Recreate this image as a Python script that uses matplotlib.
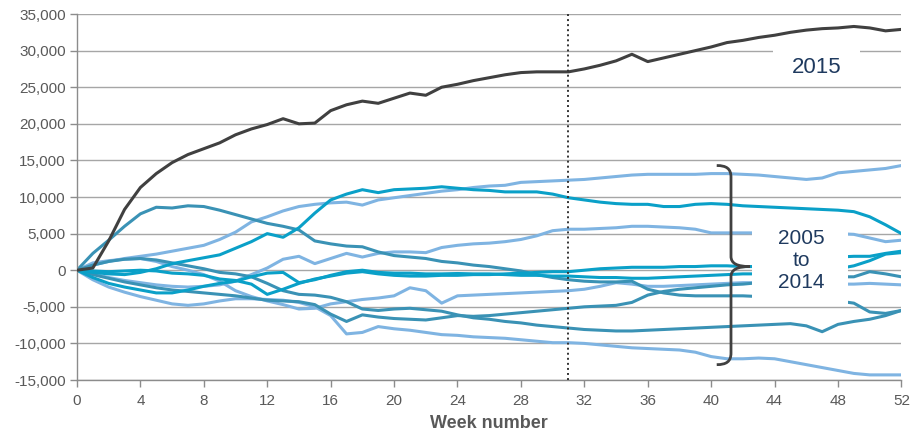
import matplotlib
matplotlib.use("Agg")
import matplotlib.pyplot as plt
from matplotlib.path import Path
from matplotlib.patches import PathPatch, Rectangle
from matplotlib.ticker import FuncFormatter, MultipleLocator

plt.rcParams["font.family"] = ["Liberation Sans", "DejaVu Sans"]

weeks = list(range(53))

# cumulative values, week 0..52
y2015 = [0, 300, 4000, 8300, 11300, 13200, 14700, 15800, 16600, 17400, 18500,
         19300, 19900, 20700, 20000, 20100, 21800, 22600, 23100, 22800, 23500,
         24200, 23900, 25000, 25400, 25900, 26300, 26700, 27000, 27100, 27100,
         27100, 27500, 28000, 28600, 29500, 28500, 29000, 29500, 30000, 30500,
         31100, 31400, 31800, 32100, 32500, 32800, 33000, 33100, 33300, 33100,
         32700, 32900]

line_a = [0, 700, 1200, 1600, 1900, 2200, 2600, 3000, 3400, 4200, 5200, 6600,
          7300, 8100, 8700, 9000, 9200, 9300, 8900, 9600, 9900, 10200, 10500,
          10800, 11000, 11300, 11500, 11600, 12000, 12100, 12200, 12300, 12400,
          12600, 12800, 13000, 13100, 13100, 13100, 13100, 13200, 13200, 13100,
          13000, 12800, 12600, 12400, 12600, 13300, 13500, 13700, 13900, 14300]
line_b = [0, -300, -500, -600, -300, 200, 900, 1300, 1700, 2100, 3000, 3900,
          5000, 4500, 5800, 7800, 9600, 10400, 11000, 10600, 11000, 11100,
          11200, 11400, 11200, 11000, 10900, 10700, 10700, 10700, 10400, 9900,
          9600, 9300, 9100, 9000, 9000, 8700, 8700, 9000, 9100, 9000, 8800,
          8700, 8600, 8500, 8400, 8300, 8200, 8000, 7300, 6200, 5000]
line_c = [0, -500, -1000, -1400, -1700, -2000, -2200, -2300, -2200, -2000,
          -1500, -600, 300, 1500, 1900, 900, 1600, 2300, 1800, 2300, 2500, 2500,
          2400, 3100, 3400, 3600, 3700, 3900, 4200, 4700, 5400, 5600, 5600,
          5700, 5800, 6000, 6000, 5900, 5800, 5600, 5100, 5100, 5100, 5100,
          5100, 5100, 5000, 5000, 5000, 4900, 4400, 3900, 4100]
line_d = [0, -100, -200, -100, 0, -100, -400, -500, -700, -1200, -1400, -1900,
          -3300, -2600, -1800, -1200, -800, -400, -200, -500, -700, -800, -800,
          -700, -700, -600, -600, -500, -400, -300, -200, -200, 0, 200, 300,
          400, 400, 400, 500, 500, 600, 600, 500, 500, 700, 900, 1200, 1500,
          1800, 1900, 1900, 2300, 2600]
line_e = [0, -1000, -1800, -2300, -2700, -3100, -3100, -2700, -2200, -1800,
          -1500, -900, -400, -300, -1700, -1300, -700, -200, 0, -300, -400,
          -400, -500, -500, -450, -500, -500, -600, -700, -700, -800, -800,
          -900, -1000, -1000, -1100, -1100, -1000, -900, -800, -700, -600, -500,
          -500, -400, -300, -200, 0, 200, 600, 1300, 2200, 2400]
line_f = [0, 2300, 4100, 6000, 7700, 8600, 8500, 8800, 8700, 8200, 7600, 7000,
          6400, 6000, 5500, 4000, 3600, 3300, 3200, 2500, 2000, 1800, 1600,
          1200, 1000, 700, 500, 200, -100, -600, -1000, -1300, -1500, -1600,
          -1600, -1500, -2600, -3100, -3400, -3500, -3500, -3500, -3500, -3600,
          -3700, -3800, -4000, -4100, -4200, -4500, -5700, -5900, -5500]
line_g = [0, 1000, 1300, 1500, 1600, 1200, 500, 0, -600, -1500, -2800, -3600,
          -4200, -4700, -5300, -5200, -4600, -4300, -4000, -3800, -3500, -2400,
          -2800, -4500, -3500, -3400, -3300, -3200, -3100, -3000, -2900, -2800,
          -2600, -2200, -1700, -1900, -2200, -2200, -2100, -2000, -1900, -1800,
          -1700, -1700, -1700, -1800, -1800, -1800, -1900, -1900, -1800, -1900,
          -2000]
line_h = [0, -600, -1100, -1600, -2000, -2400, -2700, -2900, -3100, -3300,
          -3500, -3800, -4100, -4200, -4300, -4700, -6000, -7000, -6100, -6400,
          -6600, -6700, -6800, -6500, -6200, -6300, -6200, -6000, -5800, -5600,
          -5400, -5200, -5000, -4900, -4800, -4400, -3400, -2900, -2600, -2400,
          -2200, -2000, -1900, -1700, -1500, -1300, -1100, -1000, -900, -900,
          -200, -500, -900]
line_i = [0, 700, 1200, 1500, 1600, 1400, 1000, 600, 200, -300, -500, -900,
          -1800, -2800, -3300, -3400, -3700, -4300, -5300, -5500, -5300, -5200,
          -5400, -5600, -6100, -6500, -6700, -7000, -7200, -7500, -7700, -7900,
          -8100, -8200, -8300, -8300, -8200, -8100, -8000, -7900, -7800, -7700,
          -7600, -7500, -7400, -7300, -7600, -8400, -7400, -7000, -6700, -6200,
          -5500]
line_j = [0, -1300, -2300, -3000, -3600, -4100, -4600, -4800, -4600, -4200,
          -3900, -3900, -4000, -4100, -4400, -5000, -6200, -8700, -8500, -7700,
          -8000, -8200, -8500, -8800, -8900, -9100, -9200, -9300, -9500, -9700,
          -9900, -9900, -10000, -10200, -10400, -10600, -10700, -10800, -10900,
          -11200, -11800, -12100, -12100, -12000, -12100, -12500, -12900,
          -13300, -13700, -14100, -14300, -14300, -14300]

LIGHT = "#7fb4e2"
CYAN = "#0aa0c8"
TEAL = "#3a92b5"
DARK = "#404040"

past_lines = [
    (line_a, LIGHT), (line_c, LIGHT), (line_g, LIGHT), (line_j, LIGHT),
    (line_f, TEAL), (line_h, TEAL), (line_i, TEAL),
    (line_b, CYAN), (line_d, CYAN), (line_e, CYAN),
]

fig = plt.figure(figsize=(9.11, 4.34), dpi=100)
ax = fig.add_axes([0.0845, 0.1244, 0.905, 0.8433])

for vals, col in past_lines:
    ax.plot(weeks, vals, color=col, lw=2.2, solid_capstyle="round",
            solid_joinstyle="round", zorder=2)
ax.plot(weeks, y2015, color=DARK, lw=2.2, solid_joinstyle="round", zorder=3)

ax.axvline(31, color="#333333", lw=1.4, linestyle=(0, (1, 1.6)), zorder=4)

ax.set_xlim(0, 52)
ax.set_ylim(-15000, 35000)
ax.xaxis.set_major_locator(MultipleLocator(4))
ax.yaxis.set_major_locator(MultipleLocator(5000))
ax.yaxis.set_major_formatter(FuncFormatter(lambda v, p: f"{int(v):,}"))
ax.grid(axis="y", color="#a6a6a6", lw=1.0, zorder=0)
ax.set_axisbelow(True)
for s in ["top", "right"]:
    ax.spines[s].set_visible(False)
for s in ["left", "bottom"]:
    ax.spines[s].set_color("#8c8c8c")
    ax.spines[s].set_linewidth(1.0)
ax.tick_params(axis="both", colors="#8c8c8c", labelcolor="#595959",
               labelsize=11, length=5, width=1.0)
ax.tick_params(axis="y", pad=3)
ax.tick_params(axis="x", pad=5)
ax.set_xlabel("Week number", fontsize=13, fontweight="bold", color="#595959",
              labelpad=5)

# label boxes
ax.add_patch(Rectangle((43.9, 25500), 5.5, 5500, facecolor="white",
                       edgecolor="none", zorder=5))
ax.text(46.65, 27700, "2015", ha="center", va="center", fontsize=16,
        color="#1f3a5f", zorder=6)
ax.add_patch(Rectangle((42.6, -4600), 6.0, 10700, facecolor="white",
                       edgecolor="none", zorder=5))
ax.text(45.7, 1300, "2005\nto\n2014", ha="center", va="center", fontsize=15,
        color="#1f3a5f", linespacing=1.2, zorder=6)

# curly brace
xs, xe, xt = 41.25, 40.35, 42.45
yt, yb, ym = 14300, -12900, 500
verts = [
    (xe, yt), (xs - 0.3, yt), (xs, yt - 400), (xs, yt - 1600),
    (xs, ym + 1400),
    (xs, ym + 400), (xs + 0.4, ym), (xt, ym),
    (xs + 0.4, ym), (xs, ym - 400), (xs, ym - 1400),
    (xs, yb + 1600),
    (xs, yb + 400), (xs - 0.3, yb), (xe, yb),
]
codes = [Path.MOVETO, Path.CURVE4, Path.CURVE4, Path.CURVE4,
         Path.LINETO,
         Path.CURVE4, Path.CURVE4, Path.CURVE4,
         Path.CURVE4, Path.CURVE4, Path.CURVE4,
         Path.LINETO,
         Path.CURVE4, Path.CURVE4, Path.CURVE4]
ax.add_patch(PathPatch(Path(verts, codes), facecolor="none", edgecolor=DARK,
                       lw=2.0, zorder=7, clip_on=False))

fig.savefig("out.png", dpi=100)
